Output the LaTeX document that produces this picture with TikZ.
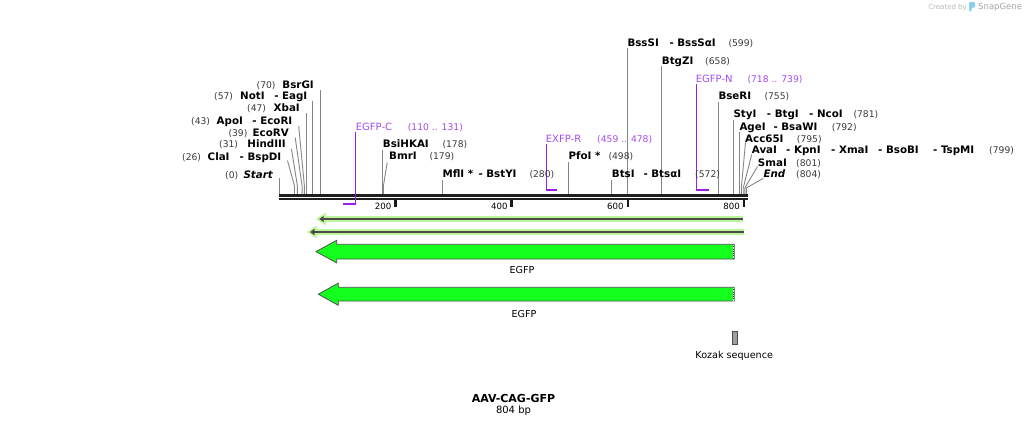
\documentclass[tikz,border=0pt]{standalone}
\usepackage{fontspec}
\setmainfont{DejaVu Sans}
\usetikzlibrary{arrows.meta}
\definecolor{numgray}{HTML}{3A3A3A}
\definecolor{cutgray}{HTML}{868686}
\definecolor{primline}{HTML}{9A1FE6}
\definecolor{primtext}{HTML}{A54CEF}
\definecolor{egfpgreen}{HTML}{14FF1E}
\definecolor{bandgreen}{HTML}{BFF59A}
\definecolor{banddark}{HTML}{4A4A4A}
\definecolor{featline}{HTML}{505050}
\definecolor{wmgray}{HTML}{B8B8B8}
\definecolor{wmblue}{HTML}{86CFF0}
\newcommand\enzf{\fontsize{10.3}{12}\selectfont\bfseries}
\newcommand\numf{\fontsize{9.2}{11}\selectfont}
\newcommand\cutln[5]{\coordinate (#1-b) at (#2,194); \coordinate (#1-t) at (#4,#5); \draw[cut] (#1-b) -- (#2,#3) -- (#1-t);}
\tikzset{
  enz/.style={font=\enzf, inner sep=0pt, anchor=base west},
  enzr/.style={enz, anchor=base east},
  num/.style={font=\numf, text=numgray, inner sep=0pt, anchor=base west},
  ptxt/.style={font=\fontsize{10}{12}\selectfont, text=primtext, inner sep=0pt, anchor=base west},
  pnum/.style={font=\numf, text=primtext, inner sep=0pt, anchor=base west},
  cut/.style={draw=cutgray, line width=0.9pt},
  primv/.style={draw=primline, line width=1.2pt},
  primh/.style={draw=primline, line width=2pt},
  ticklab/.style={font=\fontsize{8.6}{10}\selectfont, inner sep=0pt, anchor=base east},
  featlab/.style={font=\fontsize{9.6}{11}\selectfont, inner sep=0pt},
  egfparrow/.style={fill=egfpgreen, draw=featline, line width=0.8pt},
}
\begin{document}
\begin{tikzpicture}[x=1pt,y=-1pt]
\useasboundingbox (0,0) rectangle (1027,426);
\fill[white] (0,0) rectangle (1027,426);

% watermark
\node[font=\fontsize{7}{8}\selectfont, text=wmgray, inner sep=0pt, anchor=east] (wm1) at (967,7.5) {Created by};
\fill[wmblue, rounded corners=1.2pt] (969,2) -- (975,2) -- (975,7.5) -- (971.5,7.5) -- (971.5,11.5) -- (969,11.5) -- cycle;
\node[font=\fontsize{8.5}{10}\selectfont, text=wmgray!90!black, inner sep=0pt, anchor=west] (wm2) at (978,7.5) {SnapGene};

% cut lines (left)
\cutln{st}{279.4}{186}{279.4}{178.3}
\cutln{cla}{294.5}{186}{287.5}{160.5}
\cutln{hin}{297.4}{186}{291.5}{149}
\cutln{ecv}{302.1}{186}{295.2}{137.5}
\cutln{apo}{304.4}{186}{298.7}{126}
\cutln{xba}{306.7}{150}{306.7}{112.5}
\cutln{not}{312.5}{150}{312.5}{101}
\cutln{bsr}{320.1}{150}{320.1}{90}
% cut lines (middle)
\cutln{bsi}{382.8}{170}{382.8}{149.5}
\cutln{bmr}{383.4}{186}{387.2}{162.5}
\cutln{mfl}{442.1}{186}{442.1}{179.5}
\cutln{pfo}{568.7}{186}{568.7}{161.5}
\cutln{bts}{611.7}{186}{611.7}{179.5}
% cut lines (right)
\cutln{bss}{627.4}{150}{627.4}{48}
\cutln{btg}{661.7}{150}{661.7}{66}
\cutln{bse}{718.1}{150}{718.1}{101.5}
\cutln{sty}{733.2}{150}{733.2}{119.5}
\cutln{age}{739.6}{160}{739.6}{131.5}
\cutln{acc}{741.3}{188}{745.5}{142.5}
\cutln{ava}{743.2}{188}{751.7}{154.5}
\cutln{sma}{744.8}{188}{757.5}{166.5}
\cutln{end}{746.3}{188}{763.3}{178.3}

% backbone
\coordinate (bbL) at (279,195.3);
\coordinate (bbR) at (747.5,195.3);
\draw[line width=2.8pt, black!88] (bbL) -- (bbR);
\draw[line width=2pt, black!88] ([yshift=-4pt]bbL) -- ([yshift=-4pt]bbR);

% ticks
\foreach \tx/\tl in {395.4/200, 511.5/400, 627.6/600, 743.8/800}{
  \coordinate (tk\tl) at (\tx,199);
  \draw[line width=2.2pt, black!90] (tk\tl) -- ++(0,7.8);
  \node[ticklab] (tl\tl) at (\tx-3.8,209) {\tl};
}

% primers
\coordinate (pc-t) at (355.5,132);
\coordinate (pc-c) at (355.5,203.5);
\coordinate (pc-e) at (343.3,203.5);
\draw[primv] (pc-t) -- (pc-c);
\draw[primh] ([xshift=0.6pt]pc-c) -- (pc-e);
\coordinate (pr-t) at (546.1,144);
\coordinate (pr-c) at (546.1,190.3);
\coordinate (pr-e) at (557.1,190.3);
\draw[primv] (pr-t) -- (pr-c);
\draw[primh] ([xshift=-0.6pt]pr-c) -- (pr-e);
\coordinate (pn-t) at (696.3,84);
\coordinate (pn-c) at (696.3,190.3);
\coordinate (pn-e) at (708.6,190.3);
\draw[primv] (pn-t) -- (pn-c);
\draw[primh] ([xshift=-0.6pt]pn-c) -- (pn-e);

% left labels
\node[enzr] (n70) at (314,88.8) {BsrGI};
\node[num] (p70) at (256.5,88.8) {(70)};
\node[enzr] (n57b) at (307.5,99.8) {- EagI};
\node[enz] (n57a) at (240,99.8) {NotI};
\node[num] (p57) at (214,99.8) {(57)};
\node[enzr] (n47) at (300,111.8) {XbaI};
\node[num] (p47) at (247,111.8) {(47)};
\node[enzr] (n43b) at (292.5,124.3) {- EcoRI};
\node[enz] (n43a) at (216.5,124.3) {ApoI};
\node[num] (p43) at (191,124.3) {(43)};
\node[enzr] (n39) at (289,136.1) {EcoRV};
\node[num] (p39) at (228.3,136.1) {(39)};
\node[enzr] (n31) at (286,147.8) {HindIII};
\node[num] (p31) at (219,147.8) {(31)};
\node[enzr] (n26b) at (281.5,160.8) {- BspDI};
\node[enz] (n26a) at (207.5,160.8) {ClaI};
\node[num] (p26) at (182,160.8) {(26)};
\node[enzr, font=\enzf\itshape] (n0) at (273,178) {Start};
\node[num] (p0) at (225,178) {(0)};

% middle labels
\node[ptxt] (egc) at (355.7,130.3) {EGFP-C};
\node[pnum] (egcn) at (407.7,130.3) {(110 .. 131)};
\node[enz] (n178) at (382.7,147.8) {BsiHKAI};
\node[num] (p178) at (442.3,147.8) {(178)};
\node[enz] (n179) at (389,159.8) {BmrI};
\node[num] (p179) at (429.3,159.8) {(179)};
\node[enz] (n280a) at (442.3,177.8) {MflI *};
\node[enz] (n280b) at (478.3,177.8) {- BstYI};
\node[num] (p280) at (529.3,177.8) {(280)};
\node[ptxt] (exr) at (545.7,142.1) {EXFP-R};
\node[pnum] (exrn) at (597,142.1) {(459 .. 478)};
\node[enz] (n498) at (568.3,159.8) {PfoI *};
\node[num] (p498) at (608.3,159.8) {(498)};
\node[enz] (n572a) at (611.7,177.8) {BtsI};
\node[enz] (n572b) at (643.3,177.8) {- Btsα{}I};
\node[num] (p572) at (695,177.8) {(572)};

% right labels
\node[enz] (n599a) at (627.3,46.5) {BssSI};
\node[enz] (n599b) at (669.3,46.5) {- BssSα{}I};
\node[num] (p599) at (728.3,46.5) {(599)};
\node[enz] (n658) at (661.7,64.5) {BtgZI};
\node[num] (p658) at (705,64.5) {(658)};
\node[ptxt] (egn) at (695.7,82.1) {EGFP-N};
\node[pnum] (egnn) at (747.3,82.1) {(718 .. 739)};
\node[enz] (n755) at (718.3,99.8) {BseRI};
\node[num] (p755) at (764.3,99.8) {(755)};
\node[enz] (n781a) at (733.3,117.8) {StyI};
\node[enz] (n781b) at (766.7,117.8) {- BtgI};
\node[enz] (n781c) at (809,117.8) {- NcoI};
\node[num] (p781) at (853.3,117.8) {(781)};
\node[enz] (n792a) at (739.3,130.3) {AgeI};
\node[enz] (n792b) at (773.3,130.3) {- BsaWI};
\node[num] (p792) at (831.7,130.3) {(792)};
\node[enz] (n795) at (745,142.1) {Acc65I};
\node[num] (p795) at (796.7,142.1) {(795)};
\node[enz] (n799a) at (751.7,153.8) {AvaI};
\node[enz] (n799b) at (786,153.8) {- KpnI};
\node[enz] (n799c) at (831,153.8) {- XmaI};
\node[enz] (n799d) at (878,153.8) {- BsoBI};
\node[enz] (n799e) at (933,153.8) {- TspMI};
\node[num] (p799) at (989,153.8) {(799)};
\node[enz] (n801) at (757.7,166.1) {SmaI};
\node[num] (p801) at (796,166.1) {(801)};
\node[enz, font=\enzf\itshape] (n804) at (763.3,177.8) {End};
\node[num] (p804) at (796,177.8) {(804)};

% thin features (bands)
\coordinate (b1L) at (316,219);
\coordinate (b1R) at (743.3,219);
\fill[bandgreen] (b1R) ++(0,-3.4) rectangle (325,222.4);
\fill[bandgreen] (b1L) -- (326,212.5) -- (326,225.5) -- cycle;
\draw[banddark, line width=2pt, -{Triangle[length=4.5pt,width=6pt]}] (742.5,219) -- (319.2,219);
\coordinate (b2L) at (306.7,232);
\coordinate (b2R) at (744.3,232);
\fill[bandgreen] (b2R) ++(0,-3.4) rectangle (316,235.4);
\fill[bandgreen] (b2L) -- (316.7,225.5) -- (316.7,238.5) -- cycle;
\draw[banddark, line width=2pt, -{Triangle[length=4.5pt,width=6pt]}] (743.5,232) -- (310,232);

% EGFP arrows
\draw[egfparrow] (734.3,244.3) -- (336.7,244.3) -- (336.7,240.3) -- (316,251.6) -- (336.7,262.9) -- (336.7,259) -- (734.3,259) -- cycle;
\draw[black!80, line width=1.2pt] (733.4,244.7) -- (733.4,258.6);
\draw[white, line width=1.2pt, dash pattern=on 0.9pt off 0.9pt] (733.4,244.7) -- (733.4,258.6);
\node[featlab] (egfp1) at (522,270) {EGFP};
\draw[egfparrow] (734.3,287.3) -- (338.3,287.3) -- (338.3,283.1) -- (318.3,294.2) -- (338.3,305.3) -- (338.3,301) -- (734.3,301) -- cycle;
\draw[black!80, line width=1.2pt] (733.4,287.7) -- (733.4,300.6);
\draw[white, line width=1.2pt, dash pattern=on 0.9pt off 0.9pt] (733.4,287.7) -- (733.4,300.6);
\node[featlab] (egfp2) at (524,313.5) {EGFP};

% Kozak
\draw[fill=black!38, draw=black!70, line width=0.7pt] (732.4,331.5) rectangle (737.2,344.5);
\node[featlab, font=\fontsize{9.6}{11}\selectfont] (koz) at (734.2,355.5) {Kozak sequence};

% title
\node[font=\fontsize{11}{13}\selectfont\bfseries, inner sep=0pt] (title) at (513.5,398) {AAV-CAG-GFP};
\node[font=\fontsize{10}{12}\selectfont, inner sep=0pt] (len) at (513.5,410.5) {804 bp};
\end{tikzpicture}
\end{document}
